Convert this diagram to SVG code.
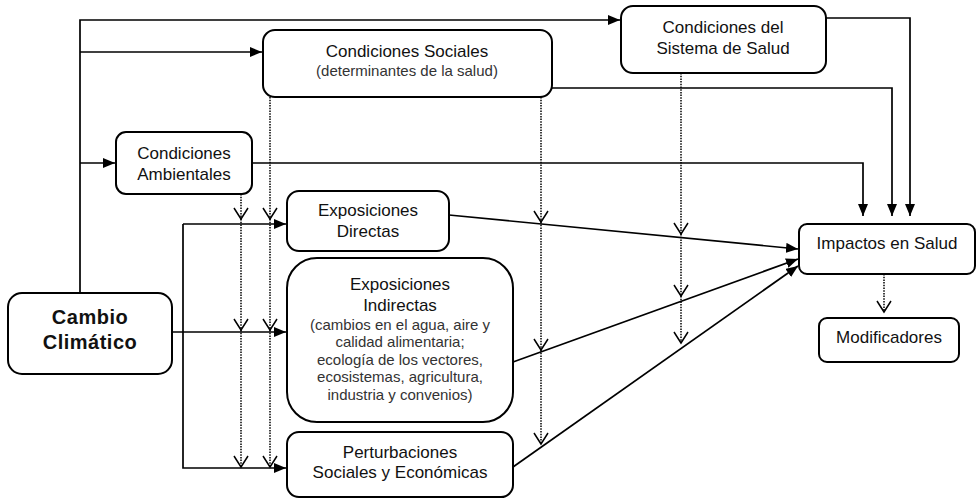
<svg xmlns="http://www.w3.org/2000/svg" width="977" height="500" viewBox="0 0 977 500">
<style>
.box{fill:#fff;stroke:#000;stroke-width:2}
.t{font-family:"Liberation Sans",Arial,sans-serif;font-size:17px;fill:#111;text-anchor:middle}
.s{font-family:"Liberation Sans",Arial,sans-serif;font-size:15px;fill:#333;text-anchor:middle}
.b{font-family:"Liberation Sans",Arial,sans-serif;font-size:20px;font-weight:bold;fill:#111;text-anchor:middle;letter-spacing:0.5px}
.c{fill:none;stroke:#000;stroke-width:1.7}
.d{fill:none;stroke:#000;stroke-width:1.5;stroke-dasharray:1.5 1.2}
</style>
<defs>
<marker id="ar" viewBox="0 0 12 10" refX="12" refY="5" markerWidth="12" markerHeight="10" markerUnits="userSpaceOnUse" orient="auto">
<path d="M0,0 L12,5 L0,10 z" fill="#000"/>
</marker>
<marker id="v" viewBox="-1 -1 14 16" refX="11" refY="7" markerWidth="14" markerHeight="16" markerUnits="userSpaceOnUse" orient="auto" overflow="visible">
<path d="M0,0 L11,7 L0,14" fill="none" stroke="#000" stroke-width="1.5"/>
</marker>
</defs>
<g id="connectors">
<path class="c" d="M80,293 V20 H620" marker-end="url(#ar)"/>
<path class="c" d="M80,52 H262" marker-end="url(#ar)"/>
<path class="c" d="M80,163 H115" marker-end="url(#ar)"/>
<path class="c" d="M826,18 H910 V216" marker-end="url(#ar)"/>
<path class="c" d="M552,88 H892 V216" marker-end="url(#ar)"/>
<path class="c" d="M252,163 H863 V216" marker-end="url(#ar)"/>
<path class="c" d="M172,332 H286" marker-end="url(#ar)"/>
<path class="c" d="M183,224 H286" marker-end="url(#ar)"/>
<path class="c" d="M183,224 V468 H286" marker-end="url(#ar)"/>
<path class="c" d="M449,215 L798,249" marker-end="url(#ar)"/>
<path class="c" d="M513,362 L798,259" marker-end="url(#ar)"/>
<path class="c" d="M513,467 L798,266" marker-end="url(#ar)"/>
<path class="d" d="M241,194 V219" marker-end="url(#v)"/>
<path class="d" d="M241,219 V330" marker-end="url(#v)"/>
<path class="d" d="M241,330 V467" marker-end="url(#v)"/>
<path class="d" d="M270,97 V219" marker-end="url(#v)"/>
<path class="d" d="M270,219 V330" marker-end="url(#v)"/>
<path class="d" d="M270,330 V467" marker-end="url(#v)"/>
<path class="d" d="M541,97 V222" marker-end="url(#v)"/>
<path class="d" d="M541,222 V350" marker-end="url(#v)"/>
<path class="d" d="M541,350 V444" marker-end="url(#v)"/>
<path class="d" d="M681,73 V234" marker-end="url(#v)"/>
<path class="d" d="M681,234 V296" marker-end="url(#v)"/>
<path class="d" d="M681,296 V343" marker-end="url(#v)"/>
<path class="d" d="M884,274 V312" marker-end="url(#v)"/>
</g>
<g id="sistema-salud">
<rect class="box" x="621" y="6" width="205" height="67" rx="12"/>
<text class="t" x="723" y="33">Condiciones del</text>
<text class="t" x="723" y="54">Sistema de Salud</text>
</g>
<g id="condiciones-sociales">
<rect class="box" x="263" y="30" width="289" height="67" rx="12"/>
<text class="t" x="407" y="57">Condiciones Sociales</text>
<text class="s" x="407" y="76">(determinantes de la salud)</text>
</g>
<g id="condiciones-ambientales">
<rect class="box" x="116" y="132" width="136" height="62" rx="10"/>
<text class="t" x="184" y="159">Condiciones</text>
<text class="t" x="184" y="180">Ambientales</text>
</g>
<g id="exposiciones-directas">
<rect class="box" x="287" y="191" width="162" height="60" rx="12"/>
<text class="t" x="368" y="216">Exposiciones</text>
<text class="t" x="368" y="237">Directas</text>
</g>
<g id="exposiciones-indirectas">
<rect class="box" x="287" y="258" width="226" height="164" rx="30"/>
<text class="t" x="400" y="290">Exposiciones</text>
<text class="t" x="400" y="311">Indirectas</text>
<text class="s" x="400" y="330">(cambios en el agua, aire y</text>
<text class="s" x="400" y="347">calidad alimentaria;</text>
<text class="s" x="400" y="365">ecología de los vectores,</text>
<text class="s" x="400" y="382">ecosistemas, agricultura,</text>
<text class="s" x="400" y="400">industria y convenios)</text>
</g>
<g id="perturbaciones">
<rect class="box" x="287" y="432" width="226" height="65" rx="12"/>
<text class="t" x="400" y="458">Perturbaciones</text>
<text class="t" x="400" y="478">Sociales y Económicas</text>
</g>
<g id="impactos-salud">
<rect class="box" x="799" y="224" width="176" height="50" rx="8"/>
<text class="t" x="887" y="249">Impactos en Salud</text>
</g>
<g id="modificadores">
<rect class="box" x="819" y="318" width="140" height="44" rx="8"/>
<text class="t" x="889" y="343">Modificadores</text>
</g>
<g id="cambio-climatico">
<rect class="box" x="8" y="293" width="164" height="81" rx="14"/>
<text class="b" x="90" y="324">Cambio</text>
<text class="b" x="90" y="349">Climático</text>
</g>
</svg>
